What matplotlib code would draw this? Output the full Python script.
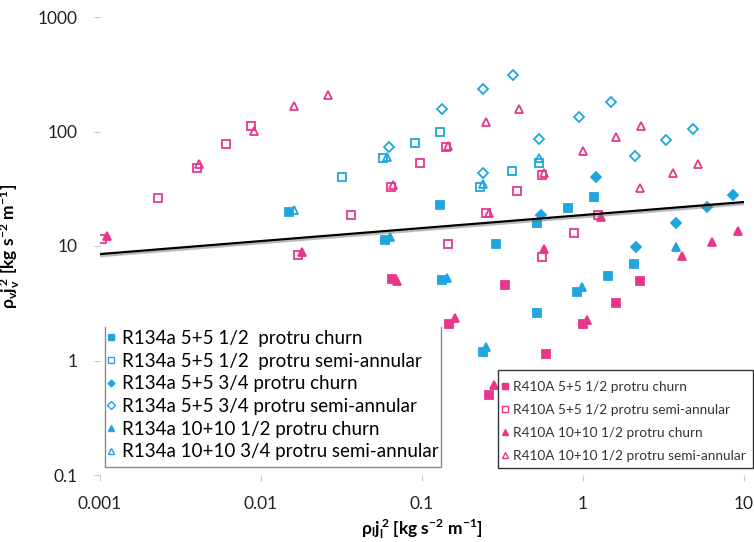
#!/usr/bin/env python3
"""
Momentum flux map: vapour vs liquid superficial momentum flux for R134a and R410A
"""

import matplotlib.pyplot as plt
import matplotlib.patheffects as pe
from matplotlib.lines import Line2D
from matplotlib.patches import Rectangle

plt.rcParams.update({
    'font.family': ['Lato', 'DejaVu Sans'],
    'mathtext.default': 'regular',
})

BLUE = '#1FA6DE'
PINK = '#E8378B'

# R134a 5+5 1/2 protru churn
r134_55_12_churn_x = [0.015, 0.059, 0.13, 0.133, 0.29, 0.52, 0.52, 0.24, 0.81, 0.92, 1.17, 1.43, 2.07]
r134_55_12_churn_y = [20, 11.3, 23, 5.0, 10.4, 15.9, 2.6, 1.19, 21.5, 4.0, 27, 5.5, 7.0]

# R134a 5+5 1/2 protru semi-annular
r134_55_12_semi_x = [0.032, 0.057, 0.091, 0.13, 0.23, 0.36, 0.53]
r134_55_12_semi_y = [40, 59, 79, 99, 33, 45, 53]

# R134a 5+5 3/4 protru churn
r134_55_34_churn_x = [0.55, 1.2, 2.13, 3.8, 5.9, 8.5]
r134_55_34_churn_y = [18.7, 40, 9.8, 15.9, 22, 28]

# R134a 5+5 3/4 protru semi-annular
r134_55_34_semi_x = [0.062, 0.133, 0.24, 0.37, 0.24, 0.53, 0.94, 1.5, 2.1, 3.3, 4.8]
r134_55_34_semi_y = [73, 157, 235, 310, 43, 86, 134, 181, 61, 84, 105]

# R134a 10+10 1/2 protru churn
r134_1010_12_churn_x = [0.063, 0.143, 0.25, 0.99, 3.8]
r134_1010_12_churn_y = [12, 5.3, 1.3, 4.4, 9.8]

# R134a 10+10 3/4 protru semi-annular
r134_1010_34_semi_x = [0.016, 0.061, 0.24, 0.53]
r134_1010_34_semi_y = [20.6, 60, 35, 59]

# R410A 5+5 1/2 protru churn
r410_55_12_churn_x = [0.065, 0.147, 0.26, 0.33, 0.59, 1.0, 1.6, 2.26]
r410_55_12_churn_y = [5.2, 2.1, 0.5, 4.6, 1.14, 2.1, 3.2, 4.9]

# R410A 5+5 1/2 protru semi-annular
r410_55_12_semi_x = [0.00103, 0.0023, 0.004, 0.0061, 0.0087, 0.017, 0.036, 0.064,
                     0.097, 0.14, 0.145, 0.25, 0.39, 0.56, 0.56, 0.88, 1.24]
r410_55_12_semi_y = [11.5, 26, 48, 78, 112, 8.3, 18.7, 33,
                     53, 73, 10.4, 19.4, 30, 42, 8.0, 13, 18.7]

# R410A 10+10 1/2 protru churn
r410_1010_12_churn_x = [0.0011, 0.018, 0.07, 0.16, 0.28, 0.57, 1.06, 1.3, 4.1, 6.3, 9.2]
r410_1010_12_churn_y = [12.2, 8.9, 4.9, 2.35, 0.61, 9.4, 2.26, 18, 8.2, 10.8, 13.5]

# R410A 10+10 1/2 protru semi-annular
r410_1010_12_semi_x = [0.0041, 0.009, 0.016, 0.026, 0.066, 0.145, 0.25, 0.4,
                       0.26, 0.57, 1.0, 1.6, 2.26, 2.3, 3.6, 5.2]
r410_1010_12_semi_y = [52, 101, 167, 208, 34, 75, 121, 157,
                       19.4, 43, 68, 90, 32, 112, 43, 52]

# transition line end points
line_x = [0.001, 10]
line_y = [8.5, 24.2]

x_ticks = [0.001, 0.01, 0.1, 1, 10]
x_tick_labels = ['0.001', '0.01', '0.1', '1', '10']
y_ticks = [0.1, 1, 10, 100, 1000]
y_tick_labels = ['0.1', '1', '10', '100', '1000']

r134_series = [
    (r134_55_12_churn_x, r134_55_12_churn_y, 's', True, 6.3, 'R134a 5+5 1/2  protru churn'),
    (r134_55_12_semi_x, r134_55_12_semi_y, 's', False, 6.0, 'R134a 5+5 1/2  protru semi-annular'),
    (r134_55_34_churn_x, r134_55_34_churn_y, 'D', True, 4.6, 'R134a 5+5 3/4 protru churn'),
    (r134_55_34_semi_x, r134_55_34_semi_y, 'D', False, 5.0, 'R134a 5+5 3/4 protru semi-annular'),
    (r134_1010_12_churn_x, r134_1010_12_churn_y, '^', True, 6.3, 'R134a 10+10 1/2 protru churn'),
    (r134_1010_34_semi_x, r134_1010_34_semi_y, '^', False, 6.0, 'R134a 10+10 3/4 protru semi-annular'),
]
r410_series = [
    (r410_55_12_churn_x, r410_55_12_churn_y, 's', True, 6.3, 'R410A 5+5 1/2 protru churn'),
    (r410_55_12_semi_x, r410_55_12_semi_y, 's', False, 6.0, 'R410A 5+5 1/2 protru semi-annular'),
    (r410_1010_12_churn_x, r410_1010_12_churn_y, '^', True, 6.3, 'R410A 10+10 1/2 protru churn'),
    (r410_1010_12_semi_x, r410_1010_12_semi_y, '^', False, 6.0, 'R410A 10+10 1/2 protru semi-annular'),
]


def draw_series(ax, series, color, legend_scale):
    handles = []
    for xs, ys, marker, filled, ms, label in series:
        ax.plot(xs, ys, linestyle='none', marker=marker, markersize=ms,
                color=color, markerfacecolor=color if filled else 'none',
                markeredgewidth=1.3, zorder=3)
        handles.append(Line2D([0], [0], linestyle='none', marker=marker,
                              markersize=ms * legend_scale, color=color,
                              markerfacecolor=color if filled else 'white',
                              markeredgewidth=1.0, label=label))
    return handles


fig = plt.figure(figsize=(7.54, 5.42), dpi=100)
W, H = 754, 542
ax = fig.add_axes([100 / W, 1 - 475 / H, 644 / W, 458 / H])
ax.set_xscale('log')
ax.set_yscale('log')
ax.set_xlim(0.001, 10)
ax.set_ylim(0.1, 1000)

h134 = draw_series(ax, r134_series, BLUE, 0.75)
h410 = draw_series(ax, r410_series, PINK, 0.65)

ax.plot(line_x, line_y, color='black', linewidth=1.6, zorder=4,
        path_effects=[pe.SimpleLineShadow(offset=(0.5, -1.5), shadow_color='#777777', alpha=0.5),
                      pe.Normal()])

for s in ax.spines.values():
    s.set_visible(False)
ax.set_xticks(x_ticks, x_tick_labels)
ax.set_yticks(y_ticks, y_tick_labels)
ax.minorticks_off()
ax.tick_params(axis='both', length=4, width=0.8, color='#C8C8C8', labelsize=12.5,
               labelcolor='#222222')
ax.tick_params(axis='x', pad=11)
ax.tick_params(axis='y', pad=12)

ax.set_xlabel('ρ$_l$$j_l^{\\,2}$ [kg s$^{-2}$ m$^{-1}$]', fontsize=12.5, fontweight='bold',
              labelpad=4)
ax.set_ylabel('ρ$_v$$j_v^{\\,2}$ [kg s$^{-2}$ m$^{-1}$]', fontsize=12.5, fontweight='bold')
ax.yaxis.set_label_coords(-78 / 644, 0.5)

# R134a legend, open at the top
leg1 = fig.legend(handles=h134, loc='upper left', bbox_to_anchor=(106 / W, 1 - 330 / H),
                  frameon=False, fontsize=13.5, handlelength=0.5, handletextpad=0.35,
                  labelspacing=0.3, borderpad=0.0, borderaxespad=0)
fig.add_artist(Line2D([105 / W, 105 / W, 441 / W, 441 / W],
                      [1 - 327 / H, 1 - 467 / H, 1 - 467 / H, 1 - 327 / H],
                      transform=fig.transFigure, color='#8A8A8A', linewidth=1.0))

# R410A legend
leg2 = fig.legend(handles=h410, loc='upper left', bbox_to_anchor=(502 / W, 1 - 381 / H),
                  frameon=False, fontsize=9.8, handlelength=0.4, handletextpad=0.4,
                  labelspacing=0.8, borderpad=0.0, borderaxespad=0)
for t in leg2.get_texts():
    t.set_color('#333333')
fig.add_artist(Rectangle((498 / W, 1 - 468 / H), 255 / W, 98 / H, transform=fig.transFigure,
                         facecolor='white', edgecolor='#333333', linewidth=1.0, zorder=1))
leg2.set_zorder(5)

fig.savefig('out.png', dpi=100)
